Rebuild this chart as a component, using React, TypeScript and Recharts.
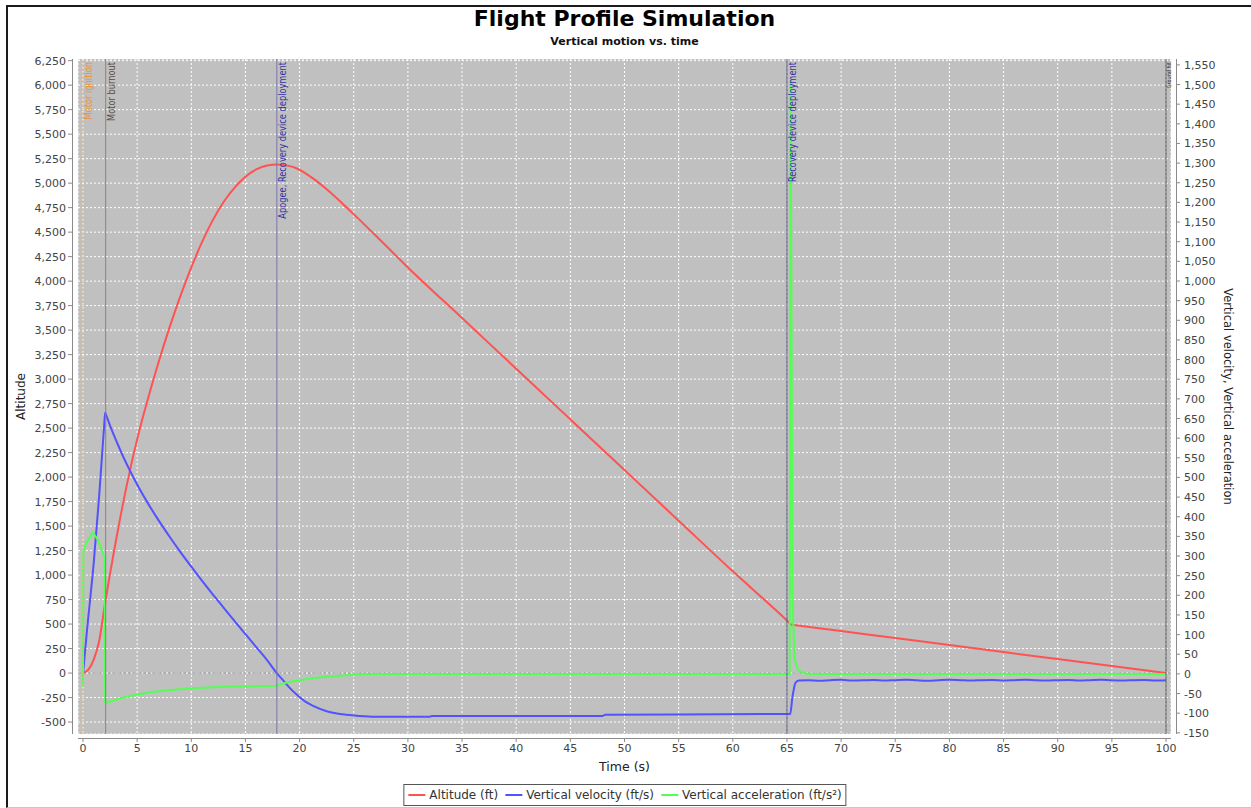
import { CartesianGrid, ComposedChart, Line, ReferenceLine, XAxis, YAxis } from "recharts"

// Axis ticks
const timeTicks = [0, 5, 10, 15, 20, 25, 30, 35, 40, 45, 50, 55, 60, 65, 70, 75, 80, 85, 90, 95, 100]
const altitudeTicks = [
  -500, -250, 0, 250, 500, 750, 1000, 1250, 1500, 1750, 2000, 2250, 2500, 2750, 3000, 3250, 3500,
  3750, 4000, 4250, 4500, 4750, 5000, 5250, 5500, 5750, 6000, 6250,
]
const motionTicks = [
  -150, -100, -50, 0, 50, 100, 150, 200, 250, 300, 350, 400, 450, 500, 550, 600, 650, 700, 750, 800,
  850, 900, 950, 1000, 1050, 1100, 1150, 1200, 1250, 1300, 1350, 1400, 1450, 1500, 1550,
]

// Altitude (ft)
const altitudeTime = [
  0, 0.5, 1.0, 1.5, 2.05, 2.5, 3.0, 3.5, 4.0, 4.5, 5.0, 5.5, 6, 7, 8, 9, 10, 11, 12, 13, 14, 15, 16,
  17, 17.9, 18.5, 19.0, 19.7, 20.5, 21.3, 22.5, 24, 25.5, 27, 30, 35, 40, 45, 50, 55, 60, 65.0, 65.4,
  65.8, 70, 75, 80, 85, 90, 95, 100,
]
const altitudeFt = [
  0, 35, 140, 330, 720, 1015, 1325, 1620, 1895, 2150, 2385, 2600, 2800, 3180, 3530, 3850, 4140, 4400,
  4625, 4810, 4955, 5065, 5140, 5180, 5190, 5185, 5176, 5152, 5103, 5043, 4937, 4788, 4630, 4468,
  4140, 3623, 3106, 2589, 2072, 1555, 1038, 537, 495, 489, 429, 357, 286, 214, 143, 72, 0,
]

// Vertical velocity (ft/s)
const velocityTime = [
  0, 0.35, 1.0, 1.5, 1.95, 2.05, 2.15, 2.5, 3.0, 3.5, 4.0, 5, 6, 7, 8, 9, 10, 11, 12, 13, 14, 15, 16,
  17, 17.95, 18.5, 19.0, 19.7, 20.5, 21.3, 22.5, 24, 25.5, 27, 32, 32.2, 48, 48.2, 65.3, 65.5, 65.8,
  66.1, 67, 68, 69, 70, 71, 72, 73, 74, 75, 76, 77, 78, 79, 80, 81, 82, 83, 84, 85, 86, 87, 88, 89, 90,
  91, 92, 93, 94, 95, 96, 97, 98, 99, 100,
]
const velocityFtS = [
  0, 105, 285, 455, 630, 665, 658, 632, 598, 566, 536, 482, 434, 390, 349, 310, 273, 237, 202, 168,
  134, 101, 68, 35, 0, -17, -33, -52, -70, -82, -95, -103, -107, -109, -109, -107, -107, -104, -102,
  -60, -22, -17, -16, -17.5, -16, -15, -17, -16.5, -15.5, -17, -16, -15, -16.5, -17.5, -16, -15, -16,
  -17, -16, -15.5, -17, -16, -15, -16.5, -17, -16, -15.5, -17, -16, -15, -16.5, -17, -16, -15.5, -17,
  -16,
]

// Vertical acceleration (ft/s²)
const accelTime = [
  0, 0.03, 0.35, 0.9, 1.4, 1.87, 2.0, 2.05, 2.2, 3.0, 4.0, 5.9, 8.0, 10.5, 13.0, 16.6, 17.9, 18.8,
  20.0, 21.5, 23.7, 25.0, 26.0, 65.25, 65.35, 65.5, 65.7, 66.0, 66.5, 67.0, 100,
]
const accelFtS2 = [
  -32, 315, 335, 360, 340, 305, 295, -70, -73, -66, -58, -48, -41, -36, -33, -31, -30, -22, -16, -10,
  -5, -2, 0, 0, 1510, 200, 40, 10, 3, 0, 0,
]

// Flight events
const eventTimes = [0, 2.1, 17.9, 65.0, 100]
const eventNames = [
  "Motor ignition",
  "Motor burnout",
  "Apogee, Recovery device deployment",
  "Recovery device deployment",
  "Ground hit",
]
const eventLineColors = ["#f2b37a", "#8c8078", "#7878a8", "#55557a", "#555555"]
const eventTextColors = ["#e8923a", "#5a4a40", "#3434a0", "#3434a0", "#333333"]
const eventFontSizes = [10, 10, 10, 10, 6]

const seriesNames = ["Altitude (ft)", "Vertical velocity (ft/s)", "Vertical acceleration (ft/s²)"]
const seriesColors = ["#ff5252", "#5252ff", "#52ff52"]

const altitudeData = altitudeTime.map((t, i) => ({ t, v: altitudeFt[i] }))
const velocityData = velocityTime.map((t, i) => ({ t, v: velocityFtS[i] }))
const accelData = accelTime.map((t, i) => ({ t, v: accelFtS2[i] }))

const font = "'DejaVu Sans', Verdana, sans-serif"
const narrowFont = "'DejaVu Sans Condensed', 'DejaVu Sans', sans-serif"
const fmt = (v: number) => v.toLocaleString("en-US")

function AltitudeTick({ x, y, payload }: any) {
  return (
    <g>
      <line x1={x - 10} x2={x - 5} y1={y} y2={y} stroke="#8a8a8a" />
      <text x={x - 12} y={y} dy={4} textAnchor="end" fontSize={11} fill="#444" fontFamily={font}>
        {fmt(payload.value)}
      </text>
    </g>
  )
}

function MotionTick({ x, y, payload }: any) {
  return (
    <g>
      <line x1={x + 5} x2={x + 9} y1={y} y2={y} stroke="#8a8a8a" />
      <text x={x + 13} y={y} dy={4} textAnchor="start" fontSize={11} fill="#444" fontFamily={font}>
        {fmt(payload.value)}
      </text>
    </g>
  )
}

function TimeTick({ x, y, payload }: any) {
  return (
    <g>
      <line x1={x} x2={x} y1={y + 4} y2={y + 8} stroke="#8a8a8a" />
      <text x={x} y={y + 18} textAnchor="middle" fontSize={11} fill="#444" fontFamily={font}>
        {payload.value}
      </text>
    </g>
  )
}

// Rotated marker text, squeezed along its reading direction
function EventLabel({ viewBox, text, color, size }: any) {
  const bx = viewBox.x + (size > 8 ? 9 : 5)
  const by = viewBox.y + 3
  return (
    <text
      x={0}
      y={0}
      transform={`translate(${bx} ${by}) rotate(-90) scale(0.92 1)`}
      textAnchor="end"
      fontSize={size}
      fill={color}
      fontFamily={narrowFont}
    >
      {text}
    </text>
  )
}

export default function App() {
  return (
    <div style={{ position: "absolute", left: 0, top: 0, width: 1251, height: 808, background: "#fff", fontFamily: font }}>
      {/* window frame */}
      <div style={{ position: "absolute", left: 6, top: 5, width: 1245, height: 800, borderLeft: "2px solid #1a1a1a", borderTop: "2px solid #1a1a1a", borderBottom: "1px solid #c8c8c8" }} />

      <div style={{ position: "absolute", left: 0, width: 1249, top: 6, textAlign: "center", fontSize: 22, fontWeight: 700, lineHeight: "26px", color: "#000" }}>
        Flight Profile Simulation
      </div>
      <div style={{ position: "absolute", left: 0, width: 1249, top: 35, textAlign: "center", fontSize: 11, fontWeight: 700, lineHeight: "14px", color: "#111" }}>
        Vertical motion vs. time
      </div>

      <div style={{ position: "absolute", left: 0, top: 0 }}>
        <ComposedChart width={1251} height={808} margin={{ top: 59, right: 20, bottom: 44, left: 18 }}>
          <CartesianGrid yAxisId="alt" fill="#c0c0c0" fillOpacity={1} stroke="#ffffff" strokeDasharray="2 2" />
          <XAxis
            dataKey="t"
            type="number"
            domain={[-0.46, 100.46]}
            allowDataOverflow
            ticks={timeTicks}
            interval={0}
            height={30}
            axisLine={false}
            tickLine={false}
            tickSize={0}
            tickMargin={0}
            tick={TimeTick}
            label={({ viewBox }: any) => (
              <text x={viewBox.x + viewBox.width / 2} y={viewBox.y + 37} textAnchor="middle" fontSize={12.5} fill="#222" fontFamily={font}>
                Time (s)
              </text>
            )}
          />
          <YAxis
            yAxisId="alt"
            orientation="left"
            type="number"
            domain={[-622, 6267]}
            allowDataOverflow
            ticks={altitudeTicks}
            interval={0}
            width={60}
            axisLine={false}
            tickLine={false}
            tickSize={0}
            tickMargin={0}
            tick={AltitudeTick}
            label={({ viewBox }: any) => {
              const cx = viewBox.x + 6.5
              const cy = viewBox.y + viewBox.height / 2
              return (
                <text x={cx} y={cy} transform={`rotate(-90 ${cx} ${cy})`} textAnchor="middle" fontSize={12} fill="#222" fontFamily={font}>
                  Altitude
                </text>
              )
            }}
          />
          <YAxis
            yAxisId="motion"
            orientation="right"
            type="number"
            domain={[-153, 1565]}
            allowDataOverflow
            ticks={motionTicks}
            interval={0}
            width={60}
            axisLine={false}
            tickLine={false}
            tickSize={0}
            tickMargin={0}
            tick={MotionTick}
            label={({ viewBox }: any) => {
              const cx = viewBox.x + 52.5
              const cy = viewBox.y + viewBox.height / 2
              return (
                <text x={cx} y={cy} transform={`rotate(90 ${cx} ${cy})`} textAnchor="middle" fontSize={11.5} fill="#222" fontFamily={font}>
                  Vertical velocity, Vertical acceleration
                </text>
              )
            }}
          />

          <ReferenceLine yAxisId="alt" y={0} stroke="#9c9c9c" strokeDasharray="3 2" />

          <Line
            yAxisId="alt"
            data={altitudeData}
            dataKey="v"
            name={seriesNames[0]}
            type="monotone"
            stroke={seriesColors[0]}
            strokeWidth={2}
            dot={false}
            isAnimationActive={false}
          />
          <Line
            yAxisId="motion"
            data={velocityData}
            dataKey="v"
            name={seriesNames[1]}
            type="monotone"
            stroke={seriesColors[1]}
            strokeWidth={2}
            dot={false}
            isAnimationActive={false}
          />
          <Line
            yAxisId="motion"
            data={accelData}
            dataKey="v"
            name={seriesNames[2]}
            type="linear"
            stroke={seriesColors[2]}
            strokeWidth={2}
            dot={false}
            isAnimationActive={false}
          />

          {eventTimes.map((t, i) => (
            <ReferenceLine
              key={eventNames[i]}
              yAxisId="alt"
              x={t}
              stroke={eventLineColors[i]}
              strokeWidth={1}
              strokeDasharray={i === 0 ? "2 2" : undefined}
              label={<EventLabel text={eventNames[i]} color={eventTextColors[i]} size={eventFontSizes[i]} />}
            />
          ))}
        </ComposedChart>
      </div>

      {/* axis lines, set off from the plot area */}
      <div style={{ position: "absolute", left: 72, top: 59, width: 1, height: 675, background: "#8a8a8a" }} />
      <div style={{ position: "absolute", left: 1176, top: 59, width: 1, height: 675, background: "#8a8a8a" }} />
      <div style={{ position: "absolute", left: 78, top: 738, width: 1093, height: 1, background: "#8a8a8a" }} />

      {/* legend */}
      <div
        style={{
          position: "absolute",
          left: 625,
          top: 784,
          transform: "translateX(-50%)",
          height: 20,
          border: "1px solid #555",
          display: "flex",
          alignItems: "center",
          padding: "0 4px",
          whiteSpace: "nowrap",
          fontSize: 12,
          color: "#333",
          background: "#fff",
        }}
      >
        {seriesNames.map((name, i) => (
          <span key={name} style={{ display: "flex", alignItems: "center", marginRight: i < 2 ? 7 : 0 }}>
            <span style={{ display: "inline-block", width: 17, height: 2, background: seriesColors[i], marginRight: 4 }} />
            {name}
          </span>
        ))}
      </div>
    </div>
  )
}
